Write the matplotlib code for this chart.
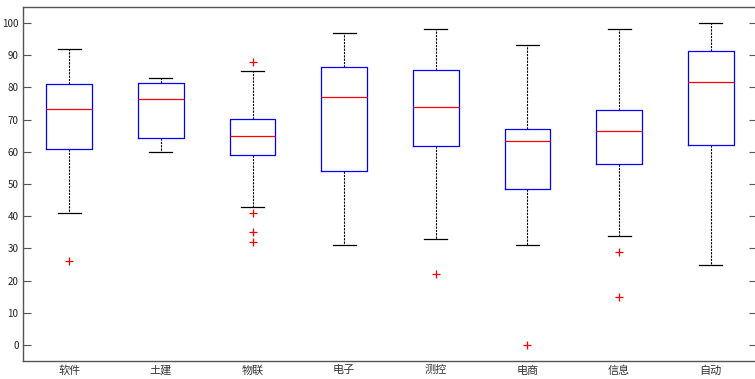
import matplotlib.pyplot as plt

plt.rcParams['font.family'] = ['Noto Sans CJK SC', 'DejaVu Sans']

# =============================================================================
# Data
# =============================================================================
majors   = ["软件", "土建", "物联", "电子", "测控", "电商", "信息", "自动"]
whislo   = [41, 60, 43, 31, 33, 31, 34, 25]
q1       = [61, 64.2, 59.1, 54.1, 61.9, 48.6, 56.3, 62.1]
medians  = [73.2, 76.3, 65.0, 77.0, 74.0, 63.2, 66.5, 81.6]
q3       = [81, 81.4, 70.3, 86.2, 85.4, 67.1, 73.0, 91.4]
whishi   = [92, 83, 85, 97, 98, 93, 98, 100]
outliers = [[26], [], [88, 41, 35, 32], [], [22], [0], [29, 15], []]

stats = []
for i, name in enumerate(majors):
    stats.append({
        "label" : name,
        "whislo": whislo[i],
        "q1"    : q1[i],
        "med"   : medians[i],
        "q3"    : q3[i],
        "whishi": whishi[i],
        "fliers": outliers[i],
    })

fig = plt.figure(figsize=(7.55, 3.79), dpi=100)
ax = fig.add_axes([0.031, 0.047, 0.971, 0.935])

ax.bxp(
    stats, positions=range(1, len(majors) + 1), widths=0.5,
    boxprops=dict(color="blue", linewidth=0.9),
    medianprops=dict(color="red", linewidth=0.9),
    whiskerprops=dict(color="black", linewidth=0.8, linestyle=(0, (2, 1))),
    capprops=dict(color="black", linewidth=0.9),
    capwidths=0.25,
    flierprops=dict(marker="+", markeredgecolor="red", markersize=6,
                    markeredgewidth=0.9, linestyle="none"),
)

ax.set_xlim(0.5, 8.5)
ax.set_ylim(-5, 105)
ax.set_yticks(range(0, 101, 10))
ax.tick_params(axis="y", direction="in", length=6, right=True, labelsize=7,
               color="#555555", labelcolor="#222222")
ax.tick_params(axis="x", length=0, labelsize=8, pad=3, labelcolor="#333333")
for sp in ax.spines.values():
    sp.set_color("#555555")
    sp.set_linewidth(1.0)

fig.savefig("out.png", dpi=100)
